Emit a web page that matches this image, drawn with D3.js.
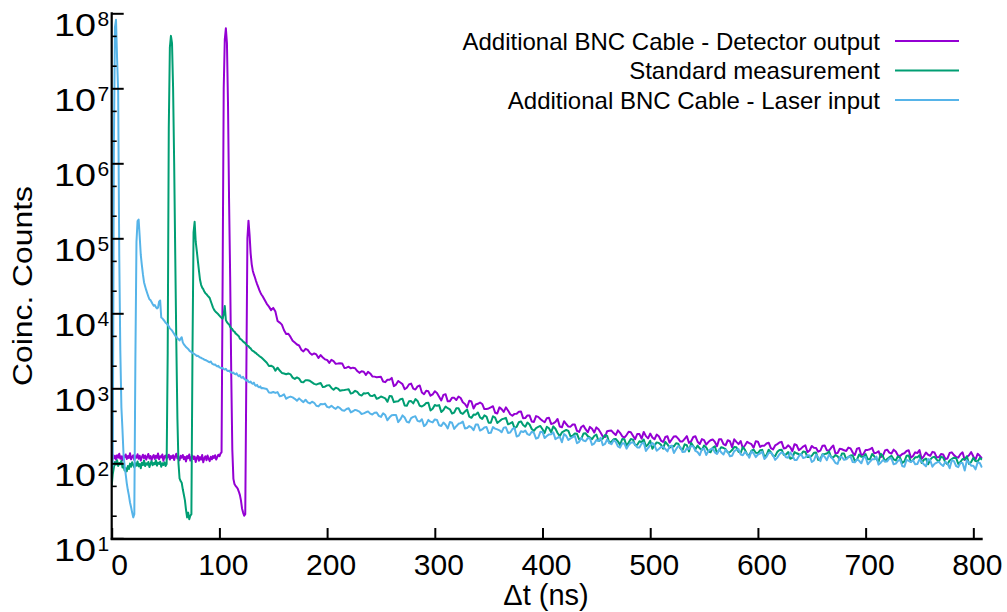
<!DOCTYPE html>
<html><head><meta charset="utf-8">
<script src="https://cdn.jsdelivr.net/npm/d3@7/dist/d3.min.js"></script>
<style>body{margin:0;background:#fff}text{font-family:"Liberation Sans",Arial,sans-serif;fill:#000}</style>
</head><body><svg id="chart" width="1007" height="612"></svg>
<script>
// time bins (ns): 1 ns up to 140 ns, then every 2 ns
const timeNs = d3.range(0, 141, 1).concat(d3.range(144, 809, 2));

const detectorCounts = [
 123,130,116,126,112,128,119,134,115,124,
 110,127,121,131,114,125,118,136,113,122,
 128,111,124,119,132,115,126,109,121,130,
 117,127,112,123,133,116,125,110,122,129,
 114,126,118,135,113,124,120,131,108,123,
 127,115,122,130,112,125,118,128,111,124,
 134,116,121,110,126,119,129,113,122,106,
 125,117,131,109,120,127,114,123,104,118,
 126,108,121,112,129,103,117,124,110,127,
 115,107,122,113,125,118,128,112,121,130,
 124,135,140,30000,10000000,45000000,63000000,40000000,6000000,300000,
 30000,1500,150,62,53,50,48,46,42,38,
 32,25,22,20,21,1500,100000,172000,112000,63000,
 45000,37000,33000,30000,27000,24500,22500,20500,19000,17800,
 17000,
 13390,12270,11020,11800,10530,7909,7520,7066,5940,5301,5335,4848,4314,4073,3838,3723,3276,3100,3360,3250,
 2960,2803,2921,2825,2542,2772,2578,2433,2388,2181,2393,2307,2124,2140,2163,2147,1870,1885,1943,1844,
 1884,1851,1697,1607,1685,1664,1506,1656,1578,1441,1431,1406,1415,1421,1233,1209,1301,1302,1375,1069,
 1120,1252,1194,1137,972,1018,1126,1157,990,962,1061,1089,880,835,928,911,796,828,915,868,
 773,689,817,835,670,674,750,746,698,777,743,651,619,558,683,666,537,607,621,647,
 618,528,530,539,558,577,473,462,557,528,485,557,506,451,431,456,459,488,490,400,
 402,435,433,361,356,426,416,390,369,353,400,405,335,341,357,390,309,302,364,334,
 309,308,329,328,271,262,305,318,285,259,306,288,257,301,284,256,228,224,268,272,
 273,253,238,275,255,229,220,238,263,259,233,210,246,245,213,262,230,215,249,221,
 209,241,229,201,192,224,229,189,208,228,229,213,195,196,212,230,187,197,224,229,
 194,181,210,204,177,192,203,208,193,169,210,209,180,174,203,197,164,209,193,180,
 198,158,174,193,186,180,161,197,194,165,172,172,184,188,159,153,173,180,189,193,
 158,160,174,164,145,180,174,150,157,167,174,141,148,170,161,160,143,148,172,173,
 149,148,161,173,135,137,156,154,149,146,162,158,139,129,157,160,127,133,151,151,
 154,161,136,138,145,121,126,148,152,139,135,152,144,127,125,133,136,146,149,119,
 125,140,137,150,115,124,139,130,126,142,139,120,120,133,131,114,116,137,140,129,
 121,119,132,140,111,121,128,141,123,112,134,126,116
];

const standardCounts = [
 50,72,88,104,96,110,92,101,97,108,
 88,94,80,86,78,92,84,99,90,103,
 95,88,100,93,106,91,98,86,102,95,
 109,92,100,96,104,89,99,107,94,101,
 97,110,93,102,98,105,90,100,95,103,
 92,98,3000,3000000,35000000,50000000,40000000,10000000,1000000,60000,
 4000,400,100,63,58,55,45,38,32,24,
 19,22,18,20,21,3000,120000,166000,90000,68000,
 50000,37000,28000,24000,22000,21000,19500,18500,18000,17200,
 16600,16000,14500,13200,12000,11200,10700,10300,10000,9700,
 9300,9000,8700,8500,9800,12500,8100,7600,7300,7100,
 6600,6300,6150,5800,5700,5400,5250,5100,4950,4600,
 4500,4380,4200,4100,4000,3800,3700,3650,3480,3400,
 3240,3150,3100,3000,2950,2850,2780,2700,2630,2580,
 2500,
 2195,1980,1999,1932,1720,1883,1726,1602,1577,1540,1578,1536,1387,1334,1397,1345,1216,1203,1285,1281,
 1258,1201,1146,1120,1152,1176,1040,1050,1094,1101,1011,958,1020,992,929,942,949,960,971,850,
 870,926,893,824,800,858,855,869,797,787,821,724,742,778,756,734,661,790,781,654,
 667,673,713,726,591,585,670,675,629,717,678,584,572,595,636,641,506,533,598,584,
 597,484,515,572,543,525,461,475,542,544,472,456,491,522,419,404,446,445,476,410,
 391,435,420,347,347,424,407,345,363,385,394,404,331,341,354,294,307,353,362,325,
 308,349,329,287,271,295,305,315,285,254,307,293,259,311,289,254,230,258,268,278,
 270,229,234,250,247,209,212,249,251,230,221,210,231,242,198,205,214,238,232,187,
 194,209,211,196,176,211,210,171,189,211,207,174,177,197,191,208,168,178,200,156,
 173,190,187,177,157,193,179,161,170,168,185,183,158,150,179,174,144,187,170,154,
 172,158,151,173,163,144,140,161,169,136,150,164,160,154,139,141,150,165,164,142,
 138,165,151,131,127,147,152,138,137,149,151,122,129,152,141,126,125,142,150,152,
 130,131,141,115,118,141,136,132,130,144,142,121,121,126,138,139,111,114,132,133,
 135,144,120,120,129,124,112,135,135,114,121,127,128,107,112,131,122,122,133,113,
 113,133,124,114,105,134,125,106,114,120,126,113,109,124,118,101,106,126,127,105,
 110,120,120,128,101,111,116,97,112,120,122,112,105,123,119,103,97,109,114,119,
 118,98,104,114,112,124,98,104,118,107,106,118,112
];

const laserCounts = [
 82,95,1500000,65000000,82000000,25000000,9000000,60000,3200,560,
 280,130,92,71,54,44,37,30,26,22,
 19,21,2500,90000,170000,178000,105000,60000,44000,33000,
 26000,23000,20500,18500,16800,15400,15000,14100,13300,12600,
 12900,12100,11600,11900,14300,14800,8800,8600,8200,7900,
 7500,7300,7000,6700,6300,6100,5900,5600,5300,5000,
 4900,4650,4500,4350,4600,4800,4100,3850,3700,3550,
 3450,3350,3200,3100,3050,2950,2900,2850,2780,2700,
 2720,2640,2580,2560,2490,2470,2400,2380,2350,2300,
 2260,2220,2280,2150,2100,2060,2080,2000,1960,1990,
 1900,1880,1850,1870,1800,1780,1820,1730,1700,1720,
 1650,1640,1600,1620,1560,1540,1580,1490,1450,1500,
 1400,1380,1420,1340,1310,1260,1290,1220,1200,1230,
 1170,1150,1190,1100,1080,1110,1050,1030,1060,1000,
 1010,
 979,879,873,893,868,890,783,797,830,725,758,775,756,724,683,734,690,653,704,650,
 628,662,641,585,574,617,611,625,566,554,584,553,532,568,543,511,503,529,541,478,
 494,515,505,489,455,463,479,492,459,447,471,475,429,416,465,440,375,410,436,440,
 440,354,384,436,408,357,350,400,416,423,368,360,386,313,332,379,359,351,385,378,
 321,315,350,327,292,355,347,288,312,336,343,359,291,295,314,302,276,328,329,273,
 283,301,305,253,255,304,290,283,275,259,299,302,254,257,285,298,228,234,268,261,
 273,245,238,264,254,213,219,263,262,217,231,243,244,258,210,219,226,191,245,232,
 204,215,223,233,185,193,219,201,197,217,216,176,183,205,198,219,174,181,208,186,
 180,203,194,168,162,185,184,157,175,188,191,176,163,162,183,188,146,160,173,186,
 175,147,155,165,166,155,144,169,172,137,154,170,164,141,142,159,155,170,168,146,
 141,128,155,157,129,146,154,158,140,133,154,139,131,151,143,124,126,145,151,155,
 131,128,142,133,119,145,136,121,131,135,143,114,122,138,138,129,111,119,132,140,
 135,120,119,140,128,111,111,124,133,118,120,128,127,104,109,130,120,107,131,122,
 110,130,121,112,101,98,121,121,111,113,122,123,104,103,113,108,100,119,121,97,
 105,113,113,123,96,102,110,106,106,116,116,97,99,108,112,92,90,111,108,104,
 110,97,98,113,105,97,91,114,110,90,98,102,105,97,92,105,100,86,110,107,
 92,89,101,101,80,109,102,93,93,83,103,101,88
];

const seriesNames = ["Additional BNC Cable - Detector output", "Standard measurement", "Additional BNC Cable - Laser input"];
const seriesColors = ["#9400D3", "#009E73", "#56B4E9"];
const seriesValues = [detectorCounts, standardCounts, laserCounts];

const xTicks = [0, 100, 200, 300, 400, 500, 600, 700, 800];
const yMajorTicks = [1e1, 1e2, 1e3, 1e4, 1e5, 1e6, 1e7, 1e8];
const yExponents = ["1", "2", "3", "4", "5", "6", "7", "8"];
const yMinorTicks = [20, 50, 200, 500, 2e3, 5e3, 2e4, 5e4, 2e5, 5e5, 2e6, 5e6, 2e7, 5e7];

const W = 1007, H = 612;
const plot = {left: 111.7, right: 982.7, top: 13.3, bottom: 538.3};

const x = d3.scaleLinear().domain([0, 808.7]).range([plot.left, plot.right]);
const y = d3.scaleLog().domain([10, 1e8]).range([plot.bottom, plot.top]);

const svg = d3.select("#chart");
svg.append("rect").attr("width", W).attr("height", H).attr("fill", "#fff");

svg.append("defs").append("clipPath").attr("id", "clip")
  .append("rect").attr("x", plot.left).attr("y", 0)
  .attr("width", plot.right - plot.left).attr("height", plot.bottom + 1);

const line = d3.line()
  .x((d, i) => x(timeNs[i]))
  .y(d => y(d));

const gLines = svg.append("g").attr("clip-path", "url(#clip)");
seriesValues.forEach((vals, k) => {
  gLines.append("path").datum(vals)
    .attr("d", line)
    .attr("fill", "none")
    .attr("stroke", seriesColors[k])
    .attr("stroke-width", 2)
    .attr("stroke-linejoin", "round");
});

// X axis
const xAxis = d3.axisBottom(x).tickValues(xTicks).tickSize(-11).tickSizeOuter(0).tickFormat(d3.format("d"));
const gx = svg.append("g").attr("transform", `translate(0,${plot.bottom + 0.7})`).call(xAxis);
gx.select(".domain").attr("stroke-width", 2.5).attr("d", `M${plot.left - 1},0H${plot.right}`);
gx.selectAll(".tick line").attr("stroke-width", 2);
gx.selectAll(".tick text")
  .attr("font-size", 30).attr("font-family", "Liberation Sans, Arial, sans-serif")
  .attr("y", 36).attr("dy", 0)
  .attr("dx", d => d === 0 ? 7.5 : 3.5);

// Y axis (major ticks)
const yAxis = d3.axisLeft(y).tickValues(yMajorTicks).tickSize(-12).tickSizeOuter(0).tickFormat("");
const gy = svg.append("g").attr("transform", `translate(${plot.left},0)`).call(yAxis);
gy.select(".domain").attr("stroke-width", 2.2).attr("d", `M0,${plot.top - 1}V${plot.bottom + 1.5}`);
gy.selectAll(".tick line").attr("stroke-width", 2);

// Y minor ticks
const yMinor = d3.axisLeft(y).tickValues(yMinorTicks).tickSize(-5).tickFormat("");
const gym = svg.append("g").attr("transform", `translate(${plot.left},0)`).call(yMinor);
gym.select(".domain").remove();
gym.selectAll(".tick line").attr("stroke-width", 1.6);

// Y tick labels 10^n
const yl = svg.append("g");
yMajorTicks.forEach((v, i) => {
  const ty = y(v);
  yl.append("text").attr("x", 54).attr("y", ty + 23)
    .attr("font-size", 32).attr("textLength", 42).attr("lengthAdjust", "spacingAndGlyphs")
    .text("10");
  yl.append("text").attr("x", 97.5).attr("y", ty + 13)
    .attr("font-size", 21)
    .text(yExponents[i]);
});

// Axis titles
svg.append("text")
  .attr("transform", `translate(32,286) rotate(-90)`)
  .attr("text-anchor", "middle").attr("font-size", 27)
  .attr("textLength", 200).attr("lengthAdjust", "spacingAndGlyphs")
  .text("Coinc. Counts");

svg.append("text")
  .attr("x", 546).attr("y", 605)
  .attr("text-anchor", "middle").attr("font-size", 29)
  .text("Δt (ns)");

// Legend
const legendY = [41, 70.5, 100];
const lg = svg.append("g");
seriesNames.forEach((name, k) => {
  lg.append("text").attr("x", 880).attr("y", legendY[k] + 8.6)
    .attr("text-anchor", "end").attr("font-size", 24).text(name);
  lg.append("line").attr("x1", 895).attr("x2", 959)
    .attr("y1", legendY[k]).attr("y2", legendY[k])
    .attr("stroke", seriesColors[k]).attr("stroke-width", 2);
});
</script>
</body></html>
